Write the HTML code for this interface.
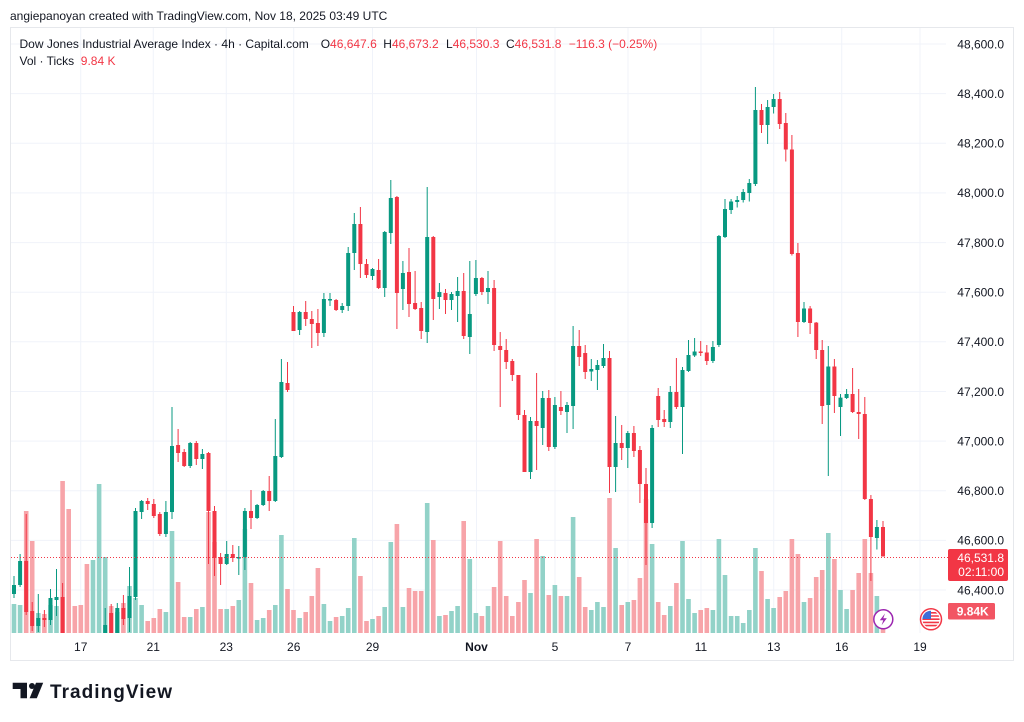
<!DOCTYPE html>
<html><head><meta charset="utf-8"><style>
html,body{margin:0;padding:0;background:#fff;width:1024px;height:722px;overflow:hidden}
svg{display:block}
text{font-family:"Liberation Sans",Arial,sans-serif}
</style></head><body>
<svg width="1024" height="722" viewBox="0 0 1024 722" xmlns="http://www.w3.org/2000/svg">
<defs><clipPath id="plot"><rect x="11" y="28" width="935" height="605"/></clipPath>
<clipPath id="flag"><circle cx="931" cy="619.3" r="8.6"/></clipPath></defs>
<rect width="1024" height="722" fill="#fff"/>
<text x="10" y="20" font-size="12" fill="#131722">angiepanoyan created with TradingView.com, Nov 18, 2025 03:49 UTC</text>
<rect x="10.5" y="27.5" width="1003" height="633" fill="none" stroke="#e6e8ec"/>
<g stroke="#f0f3fa" stroke-width="1">
<path d="M11 44H946M11 93.6H946M11 143.3H946M11 192.9H946M11 242.6H946M11 292.2H946M11 341.8H946M11 391.5H946M11 441.1H946M11 490.8H946M11 540.4H946M11 590H946"/>
<path d="M80.7 28V633M153.3 28V633M226.3 28V633M293.7 28V633M372.5 28V633M476.5 28V633M555 28V633M628 28V633M701 28V633M773.7 28V633M841.7 28V633M920 28V633"/>
</g>
<g font-size="12" fill="#131722">
<text x="19.5" y="48">Dow Jones Industrial Average Index · 4h · Capital.com</text>
<text x="320.7" y="48">O<tspan fill="#f23645">46,647.6</tspan></text>
<text x="383.3" y="48">H<tspan fill="#f23645">46,673.2</tspan></text>
<text x="446" y="48">L<tspan fill="#f23645">46,530.3</tspan></text>
<text x="506" y="48">C<tspan fill="#f23645">46,531.8</tspan></text>
<text x="568.7" y="48" fill="#f23645">−116.3 (−0.25%)</text>
<text x="19.5" y="65">Vol · Ticks</text>
<text x="80.8" y="65" fill="#f23645">9.84 K</text>
</g>
<g clip-path="url(#plot)">
<path fill="#92d2c8" d="M11.7 604h4.6V633h-4.6zM17.8 605h4.6V633h-4.6zM36 613h4.6V633h-4.6zM48.2 605h4.6V633h-4.6zM54.2 606h4.6V633h-4.6zM90.7 560h4.6V633h-4.6zM96.8 484h4.6V633h-4.6zM102.9 557h4.6V633h-4.6zM115 612h4.6V633h-4.6zM127.2 586h4.6V633h-4.6zM133.2 598h4.6V633h-4.6zM139.3 605h4.6V633h-4.6zM163.6 612h4.6V633h-4.6zM169.7 531h4.6V633h-4.6zM187.9 617h4.6V633h-4.6zM200.1 607h4.6V633h-4.6zM224.4 609h4.6V633h-4.6zM236.5 600h4.6V633h-4.6zM242.6 529h4.6V633h-4.6zM254.8 620h4.6V633h-4.6zM260.9 618h4.6V633h-4.6zM273 605h4.6V633h-4.6zM279.1 535h4.6V633h-4.6zM297.3 618h4.6V633h-4.6zM321.6 604h4.6V633h-4.6zM327.7 621h4.6V633h-4.6zM339.9 616h4.6V633h-4.6zM345.9 608h4.6V633h-4.6zM352 538h4.6V633h-4.6zM370.2 619h4.6V633h-4.6zM382.4 607h4.6V633h-4.6zM388.5 542h4.6V633h-4.6zM400.6 607h4.6V633h-4.6zM424.9 503h4.6V633h-4.6zM437.1 616h4.6V633h-4.6zM449.2 611h4.6V633h-4.6zM455.3 606h4.6V633h-4.6zM467.5 559h4.6V633h-4.6zM473.6 613h4.6V633h-4.6zM485.7 606h4.6V633h-4.6zM528.2 593h4.6V633h-4.6zM540.4 556h4.6V633h-4.6zM552.6 585h4.6V633h-4.6zM564.7 596h4.6V633h-4.6zM570.8 517h4.6V633h-4.6zM589 610h4.6V633h-4.6zM595.1 602h4.6V633h-4.6zM601.2 607h4.6V633h-4.6zM613.3 548h4.6V633h-4.6zM625.5 602h4.6V633h-4.6zM649.8 544h4.6V633h-4.6zM668 606h4.6V633h-4.6zM680.2 541h4.6V633h-4.6zM686.2 599h4.6V633h-4.6zM692.3 613h4.6V633h-4.6zM710.6 610h4.6V633h-4.6zM716.6 539h4.6V633h-4.6zM722.7 575h4.6V633h-4.6zM728.8 616h4.6V633h-4.6zM734.9 616h4.6V633h-4.6zM740.9 623h4.6V633h-4.6zM747 610h4.6V633h-4.6zM753.1 548h4.6V633h-4.6zM765.3 599h4.6V633h-4.6zM771.3 608h4.6V633h-4.6zM801.7 602h4.6V633h-4.6zM826 533h4.6V633h-4.6zM838.2 590h4.6V633h-4.6zM844.3 609h4.6V633h-4.6zM874.6 596h4.6V633h-4.6z"/>
<path fill="#f7a4a9" d="M23.9 511h4.6V633h-4.6zM29.9 541h4.6V633h-4.6zM42.1 614h4.6V633h-4.6zM60.3 481h4.6V633h-4.6zM66.4 509h4.6V633h-4.6zM72.5 606h4.6V633h-4.6zM78.5 605h4.6V633h-4.6zM84.6 564h4.6V633h-4.6zM108.9 606h4.6V633h-4.6zM121.1 603h4.6V633h-4.6zM145.4 621h4.6V633h-4.6zM151.5 618h4.6V633h-4.6zM157.5 609h4.6V633h-4.6zM175.8 582h4.6V633h-4.6zM181.9 617h4.6V633h-4.6zM194 609h4.6V633h-4.6zM206.2 512h4.6V633h-4.6zM212.2 542h4.6V633h-4.6zM218.3 609h4.6V633h-4.6zM230.5 606h4.6V633h-4.6zM248.7 583h4.6V633h-4.6zM266.9 610h4.6V633h-4.6zM285.2 589h4.6V633h-4.6zM291.2 610h4.6V633h-4.6zM303.4 612h4.6V633h-4.6zM309.5 596h4.6V633h-4.6zM315.6 568h4.6V633h-4.6zM333.8 617h4.6V633h-4.6zM358.1 576h4.6V633h-4.6zM364.2 621h4.6V633h-4.6zM376.3 616h4.6V633h-4.6zM394.6 524h4.6V633h-4.6zM406.7 588h4.6V633h-4.6zM412.8 591h4.6V633h-4.6zM418.9 591h4.6V633h-4.6zM431 540h4.6V633h-4.6zM443.2 615h4.6V633h-4.6zM461.4 521h4.6V633h-4.6zM479.6 616h4.6V633h-4.6zM491.8 587h4.6V633h-4.6zM497.9 541h4.6V633h-4.6zM503.9 596h4.6V633h-4.6zM510 616h4.6V633h-4.6zM516.1 602h4.6V633h-4.6zM522.2 580h4.6V633h-4.6zM534.3 539h4.6V633h-4.6zM546.5 595h4.6V633h-4.6zM558.6 596h4.6V633h-4.6zM576.9 577h4.6V633h-4.6zM582.9 607h4.6V633h-4.6zM607.2 498h4.6V633h-4.6zM619.4 605h4.6V633h-4.6zM631.6 600h4.6V633h-4.6zM637.6 578h4.6V633h-4.6zM643.7 499h4.6V633h-4.6zM655.9 602h4.6V633h-4.6zM661.9 615h4.6V633h-4.6zM674.1 583h4.6V633h-4.6zM698.4 610h4.6V633h-4.6zM704.5 608h4.6V633h-4.6zM759.2 571h4.6V633h-4.6zM777.4 597h4.6V633h-4.6zM783.5 591h4.6V633h-4.6zM789.6 539h4.6V633h-4.6zM795.6 554h4.6V633h-4.6zM807.8 598h4.6V633h-4.6zM813.9 577h4.6V633h-4.6zM819.9 570h4.6V633h-4.6zM832.1 559h4.6V633h-4.6zM850.3 590h4.6V633h-4.6zM856.4 573h4.6V633h-4.6zM862.5 539h4.6V633h-4.6zM868.6 573h4.6V633h-4.6zM880.7 624h4.6V633h-4.6z"/>
<path stroke="#089981" stroke-width="1" fill="none" d="M14 576V598M20.1 554V587M38.3 594V632M50.5 589V625M56.5 569V616M105.2 608V640M117.3 603V640M129.5 567V632M135.5 508V600M141.6 500V519M165.9 501V537M172 407V519M190.2 442V468M202.4 449V469M226.7 541V565M238.8 546V575M244.9 508V570M257.1 504V519M263.2 490V506M275.3 419V502M281.4 359V458M299.6 311V335M323.9 293V337M330 293V306M342.2 303V313M348.2 247V311M354.3 213V270M372.5 268V280M384.7 231V297M390.8 180V244M402.9 261V310M427.2 187V343M439.4 283V309M451.5 292V310M457.6 277V322M469.8 261V354M475.9 260V296M488 271V304M530.5 417V479M542.7 391V445M554.9 397V449M567 402V433M573.1 326V429M591.3 359V381M597.4 360V390M603.5 344V368M615.6 416V492M627.8 431V468M652.1 425V528M670.3 386V428M682.5 367V454M688.5 340V372M694.6 338V357M712.9 341V363M718.9 235V347M725 199V238M731.1 199V214M737.2 196V207.5M743.2 189V202.5M749.3 179V201.5M755.4 87V186M767.6 100V144M773.6 94V113.5M804 302V323M828.3 346V476M840.5 394V436M846.6 389V399M876.9 520V549.5"/>
<path fill="#089981" d="M12 585h4v9h-4zM18.1 561h4v24h-4zM36.3 618h4v8h-4zM48.5 598h4v22h-4zM54.5 597h4v3h-4zM103.2 625h4v15h-4zM115.3 608h4v32h-4zM127.5 596h4v22h-4zM133.5 511h4v86h-4zM139.6 501h4v11h-4zM163.9 512h4v22h-4zM170 446h4v66h-4zM188.2 443h4v23h-4zM200.4 454h4v5h-4zM224.7 554h4v10h-4zM236.8 557h4v1.5h-4zM242.9 511h4v46h-4zM255.1 505h4v13h-4zM261.2 491h4v14h-4zM273.3 456h4v45h-4zM279.4 382h4v75h-4zM297.6 312h4v18h-4zM321.9 299h4v34h-4zM328 299h4v1.5h-4zM340.2 306h4v4h-4zM346.2 253h4v53h-4zM352.3 224h4v29h-4zM370.5 269h4v7h-4zM382.7 232h4v56h-4zM388.8 198h4v35h-4zM400.9 273h4v16h-4zM425.2 237h4v95h-4zM437.4 292h4v5h-4zM449.5 294h4v6h-4zM455.6 291h4v5h-4zM467.8 314h4v23h-4zM473.9 278h4v16h-4zM486 288h4v4h-4zM528.5 421h4v51h-4zM540.7 398h4v30h-4zM552.9 405h4v42h-4zM565 405h4v7h-4zM571.1 346h4v60h-4zM589.3 369h4v2.5h-4zM595.4 365h4v5h-4zM601.5 358h4v8h-4zM613.6 443h4v24h-4zM625.8 433h4v15h-4zM650.1 428h4v95h-4zM668.3 392h4v30h-4zM680.5 370h4v37h-4zM686.5 355h4v16h-4zM692.6 351.5h4v4h-4zM710.9 347h4v14h-4zM716.9 236h4v109h-4zM723 209h4v28h-4zM729.1 201.5h4v8.5h-4zM735.2 200h4v2h-4zM741.2 192h4v8h-4zM747.3 183h4v10h-4zM753.4 110h4v74h-4zM765.6 107h4v18h-4zM771.6 99h4v8h-4zM802 308.5h4v13.5h-4zM826.3 366.5h4v38.5h-4zM838.5 397.6h4v9.4h-4zM844.6 394h4v4h-4zM874.9 527h4v11h-4z"/>
<path stroke="#f23645" stroke-width="1" fill="none" d="M26.2 514V615M32.2 602V631M44.4 610V627M62.6 583V640M111.2 604V640M123.4 595V625M147.7 498V510M153.8 499V518M159.8 512V536M178.1 429V462M184.2 449V467M196.3 441V465M208.5 452V564M214.5 506V576M220.6 553V585M232.8 545V562M251 490V529M269.2 476V511M287.5 362V392M293.5 306V331M305.7 301V326M311.8 311V348M317.9 309V346M336.1 299V311M360.4 207V278M366.5 259V278M378.6 259V289M396.9 196V329M409 248V317M415.1 271V310M421.2 302V339M433.3 236V320M445.5 289V314M463.7 273V339M481.9 277V295M494.1 280V351M500.2 332V407M506.2 339V369M512.3 359V381M518.4 375V420M524.5 410V472M536.6 373V470M548.8 390V451M560.9 391V415M579.2 330V366M585.2 345V379M609.5 351V493M621.7 425V460M633.9 426V457M639.9 446V503M646 468V565M658.2 388V427M664.2 410V427M676.4 358V409M700.7 341V356M706.8 345V365M761.5 104V133M779.7 92V129M785.8 113V161.5M791.9 135V255.5M797.9 243V337M810.1 306V334M816.2 322V359M822.2 340V424M834.4 359V413M852.6 368V413M858.7 389V439M864.8 397V500M870.9 495V581M883 521V556.5"/>
<path fill="#f23645" d="M24.2 561h4v51h-4zM30.2 611h4v15h-4zM42.4 618h4v2h-4zM60.6 597h4v43h-4zM109.2 613h4v27h-4zM121.4 608h4v11h-4zM145.7 501h4v3h-4zM151.8 504h4v12h-4zM157.8 514h4v20h-4zM176.1 445h4v8h-4zM182.2 452h4v14h-4zM194.3 443h4v16h-4zM206.5 453h4v58h-4zM212.5 511h4v47h-4zM218.6 557h4v7h-4zM230.8 554h4v4h-4zM249 511h4v7h-4zM267.2 491h4v10h-4zM285.5 383h4v7h-4zM291.5 312h4v19h-4zM303.7 312h4v7h-4zM309.8 319h4v5h-4zM315.9 323h4v10h-4zM334.1 300h4v10h-4zM358.4 224h4v40h-4zM364.5 264h4v11h-4zM376.6 270h4v18h-4zM394.9 197h4v96h-4zM407 272h4v32h-4zM413.1 303h4v6h-4zM419.2 308h4v23h-4zM431.3 237h4v62h-4zM443.5 293h4v7h-4zM461.7 291h4v45h-4zM479.9 278h4v14h-4zM492.1 288h4v57h-4zM498.2 346h4v4h-4zM504.2 350h4v12h-4zM510.3 361h4v14h-4zM516.4 375h4v40h-4zM522.5 415h4v57h-4zM534.6 421h4v5h-4zM546.8 398h4v49h-4zM558.9 407h4v4h-4zM577.2 346h4v11h-4zM583.2 353h4v19h-4zM607.5 358h4v109h-4zM619.7 443h4v5h-4zM631.9 433h4v18h-4zM637.9 450h4v34h-4zM644 484h4v39h-4zM656.2 396h4v24h-4zM662.2 419h4v3h-4zM674.4 392h4v15h-4zM698.7 351.5h4v1.5h-4zM704.8 352.5h4v8.5h-4zM759.5 110h4v15h-4zM777.7 99h4v25h-4zM783.8 123h4v26.5h-4zM789.9 149.5h4v104.5h-4zM795.9 253h4v69h-4zM808.1 308.5h4v14.5h-4zM814.2 322.6h4v27.4h-4zM820.2 350h4v56h-4zM832.4 366.5h4v29.5h-4zM850.6 394h4v18h-4zM856.7 412h4v2h-4zM862.8 414h4v85h-4zM868.9 499h4v38h-4zM881 527h4v29.5h-4z"/>
</g>
<path d="M11 557.5H948" stroke="#f23645" stroke-width="1" stroke-dasharray="1 2"/>
<g>
<circle cx="883.3" cy="619.3" r="9.5" fill="#fff" stroke="#9c27b0" stroke-width="1.5"/>
<path d="M885 613.5L879.8 620.3H883.3L881.6 625.2L886.8 618.3H883.3Z" fill="#9c27b0"/>
</g>
<g>
<circle cx="931" cy="619.3" r="10.5" fill="#fff" stroke="#f23645" stroke-width="1.5"/>
<g clip-path="url(#flag)">
<rect x="922" y="610" width="18" height="19" fill="#fff"/>
<path d="M922 612h18v1.6h-18zM922 615.2h18v1.6h-18zM922 618.4h18v1.6h-18zM922 621.6h18v1.6h-18zM922 624.8h18v1.6h-18z" fill="#f23645"/>
<rect x="922" y="610" width="9" height="9" fill="#3d6fd8"/>
</g>
</g>
<g font-size="12" fill="#131722" text-anchor="end">
<text x="1004" y="48.3">48,600.0</text>
<text x="1004" y="97.9">48,400.0</text>
<text x="1004" y="147.6">48,200.0</text>
<text x="1004" y="197.2">48,000.0</text>
<text x="1004" y="246.9">47,800.0</text>
<text x="1004" y="296.5">47,600.0</text>
<text x="1004" y="346.1">47,400.0</text>
<text x="1004" y="395.8">47,200.0</text>
<text x="1004" y="445.4">47,000.0</text>
<text x="1004" y="495.1">46,800.0</text>
<text x="1004" y="544.7">46,600.0</text>
<text x="1004" y="594.3">46,400.0</text>
</g>
<rect x="948" y="549" width="60" height="32" rx="2" fill="#f23645"/>
<g font-size="12" fill="#fff" text-anchor="end">
<text x="1004" y="562">46,531.8</text>
<text x="1004" y="576">02:11:00</text>
</g>
<rect x="948" y="603" width="47" height="16.5" rx="1.5" fill="#f25563"/>
<text x="956.7" y="615.5" font-size="12" font-weight="bold" fill="#fff">9.84K</text>
<g font-size="12" fill="#131722" text-anchor="middle">
<text x="80.7" y="651">17</text>
<text x="153.3" y="651">21</text>
<text x="226.3" y="651">23</text>
<text x="293.7" y="651">26</text>
<text x="372.5" y="651">29</text>
<text x="476.5" y="651" font-weight="bold">Nov</text>
<text x="555" y="651">5</text>
<text x="628" y="651">7</text>
<text x="701" y="651">11</text>
<text x="773.7" y="651">13</text>
<text x="841.7" y="651">16</text>
<text x="920" y="651">19</text>
</g>
<g fill="#131722">
<path d="M12.7 682.7H27V698.3H20.5V689H12.7Z"/>
<circle cx="32" cy="686" r="3"/>
<path d="M36 682.7H43.2L36.8 698.3H29.6Z"/>
<text x="50" y="698" font-size="19" font-weight="bold" textLength="122" lengthAdjust="spacing">TradingView</text>
</g>
</svg>
</body></html>
